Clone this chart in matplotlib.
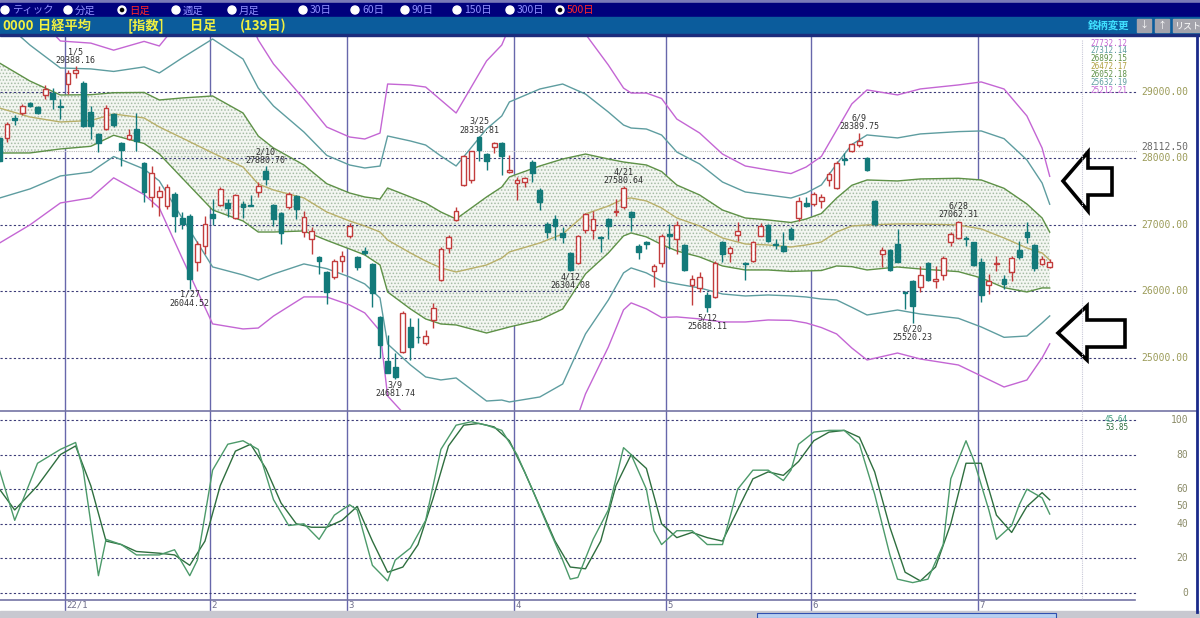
import numpy as np
import matplotlib.pyplot as plt
import matplotlib.transforms as mtransforms
from matplotlib.patches import Polygon, Rectangle, Circle

plt.rcParams['font.family'] = ['DejaVu Sans', 'Noto Sans CJK JP']
plt.rcParams['hatch.linewidth'] = 0.7

# ---- 日経平均 日足 2021/12/20 - 2022/7/14 (139 days) ----
opens = [28315, 28315, 28615, 28690, 28840, 28775, 28950, 28990, 28790, 29115,
         29280, 29140, 28705, 28365, 28450, 28665, 28240, 28300, 28450, 27930,
         27415, 27415, 27290, 27465, 27105, 27140, 26440, 26690, 27165, 27305,
         27330, 27100, 27315, 27305, 27500, 27815, 27305, 27180, 27275, 27430,
         26900, 26790, 26515, 26290, 26215, 26465, 26830, 26515, 26615, 26410,
         25620, 24960, 24870, 25095, 25470, 25320, 25220, 25570, 26165, 26650,
         27075, 27600, 27675, 28330, 28070, 28170, 28240, 27790, 27625, 27650,
         27950, 27525, 27015, 27085, 26875, 26585, 26425, 26930, 26930, 26825,
         27090, 27200, 27265, 27190, 26680, 26745, 26315, 26430, 26865, 26790,
         26700, 26090, 26050, 25940, 25915, 26750, 26575, 26850, 26430, 26465,
         26840, 27005, 26715, 26680, 26940, 27100, 27325, 27315, 27365, 27680,
         27550, 27990, 28115, 28200, 28005, 27365, 26565, 26625, 26715, 25990,
         26150, 26065, 26430, 26150, 26240, 26750, 26800, 26800, 26740, 26450,
         26100, 26415, 26190, 26290, 26625, 26890, 26700, 26415, 26365]
highs = [28340, 28550, 28650, 28815, 28850, 28790, 29100, 29065, 28890, 29325,
         29388, 29160, 28790, 28380, 28800, 28680, 28250, 28440, 28690, 27940,
         27880, 27590, 27615, 27490, 27190, 27165, 26765, 27140, 27390, 27565,
         27390, 27465, 27365, 27450, 27640, 27880, 27315, 27190, 27490, 27450,
         27215, 26965, 26540, 26315, 26490, 26615, 27030, 26535, 26675, 26425,
         25630, 25345, 25070, 25700, 25595, 25595, 25420, 25820, 26675, 26850,
         27265, 28053, 28118, 28339, 28080, 28253, 28253, 28050, 27725, 27725,
         27980, 27550, 27050, 27150, 26975, 26600, 26850, 27180, 27215, 26840,
         27100, 27390, 27581, 27215, 26715, 26765, 26415, 26865, 27015, 27065,
         26715, 26240, 26300, 25990, 26460, 26765, 26690, 27050, 26440, 26765,
         27030, 27015, 26790, 26890, 26965, 27415, 27415, 27490, 27465, 27790,
         27965, 28075, 28240, 28390, 28015, 27375, 26665, 26640, 26940, 26000,
         26165, 26390, 26440, 26390, 26530, 26900, 27062, 26840, 26750, 26500,
         26265, 26540, 26240, 26530, 26765, 27040, 26715, 26540, 26490]
lows = [27940, 28250, 28500, 28650, 28780, 28670, 28890, 28740, 28590, 28965,
        29210, 28480, 28300, 28100, 28430, 28480, 27890, 28280, 28115, 27340,
        27265, 27140, 27240, 26890, 26940, 26044, 26315, 26565, 27000, 27290,
        27115, 27090, 27100, 27290, 27415, 27600, 26990, 26715, 27240, 27090,
        26815, 26565, 26265, 25815, 26190, 26290, 26800, 26325, 26550, 25770,
        24995, 24770, 24682, 25070, 24970, 25220, 25195, 25445, 26150, 26585,
        27065, 27587, 27627, 27955, 27827, 28078, 27752, 27780, 27375, 27575,
        27650, 27225, 26800, 26775, 26725, 26304, 26410, 26880, 26790, 26590,
        26790, 27140, 27240, 26915, 26490, 26640, 26065, 26365, 26640, 26565,
        26315, 25790, 25990, 25688, 25900, 26440, 26450, 26765, 26165, 26440,
        26830, 26750, 26640, 26600, 26780, 27065, 27275, 27290, 27250, 27590,
        27540, 27900, 28090, 28180, 27815, 26990, 26365, 26315, 26440, 25740,
        25520, 25990, 26150, 26050, 26165, 26690, 26790, 26690, 26390, 25840,
        25965, 26315, 26040, 26150, 26490, 26725, 26315, 26400, 26350]
closes = [27965, 28515, 28575, 28790, 28790, 28680, 29050, 28900, 28780, 29290,
          29330, 28490, 28490, 28230, 28765, 28500, 28130, 28350, 28265, 27490,
          27780, 27515, 27575, 27140, 27015, 26190, 26715, 27015, 27100, 27540,
          27250, 27450, 27265, 27290, 27590, 27690, 27090, 26880, 27465, 27240,
          27115, 26905, 26465, 25990, 26465, 26530, 26990, 26375, 26575, 25975,
          25195, 24780, 24710, 25670, 25160, 25310, 25330, 25745, 26635, 26825,
          27215, 28030, 28105, 28130, 27955, 28240, 28030, 27820, 27675, 27700,
          27775, 27350, 26890, 26985, 26815, 26325, 26835, 27165, 27090, 26805,
          26990, 27215, 27550, 27115, 26600, 26715, 26390, 26840, 26840, 27005,
          26330, 26180, 26215, 25765, 26430, 26565, 26655, 26915, 26415, 26740,
          26990, 26765, 26700, 26615, 26790, 27365, 27290, 27465, 27415, 27765,
          27930, 27975, 28215, 28265, 27830, 27015, 26630, 26330, 26450, 25975,
          25780, 26240, 26165, 26180, 26500, 26865, 27040, 26785, 26400, 25940,
          26150, 26430, 26115, 26500, 26525, 26815, 26350, 26490, 26440]

# first candle of each month
month_start = [9, 28, 46, 68, 88, 107, 129]
month_lbl = ['22/1', '2', '3', '4', '5', '6', '7']

# Bollinger (25日): centre line and sigma
band_i = [0, 4, 8, 12, 15, 19, 21, 24, 28, 32, 34, 36, 40, 43, 46, 48, 50, 51, 54, 56,
          58, 60, 64, 66, 67, 71, 74, 77, 80, 82, 83, 85, 87, 89, 92, 95, 98, 101, 104, 106,
          108, 110, 112, 114, 118, 121, 126, 129, 132, 135, 137, 138]
band_mid = [28759, 28624, 28549, 28571, 28669, 28609, 28474, 28308, 28083, 27872,
            27616, 27526, 27406, 27195, 27060, 26985, 26894, 26774, 26579, 26458,
            26353, 26293, 26398, 26503, 26594, 26729, 26864, 27165, 27285, 27391,
            27406, 27361, 27255, 27105, 26985, 26804, 26714, 26699, 26669, 26699,
            26744, 26894, 26985, 27000, 27015, 27015, 27000, 26940, 26804, 26654,
            26579, 26472]
band_sig = [677, 541, 406, 388, 320, 384, 406, 602, 857, 812,
            722, 632, 496, 426, 421, 436, 496, 782, 842, 872,
            842, 797, 1023, 1068, 1128, 1158, 1128, 902, 707, 556,
            526, 541, 549, 496, 466, 421, 391, 376, 368, 391,
            429, 511, 612, 677, 647, 677, 702, 737, 747, 662,
            526, 420]
band_legend = ['27732.12', '27312.14', '26892.15', '26472.17', '26052.18', '25632.19', '25212.21']

# stochastics
k_i = [0, 2, 5, 8, 10, 11, 13, 14, 16, 18, 21, 23, 25, 26, 28, 30, 32, 34, 36, 38,
       40, 42, 44, 46, 47, 49, 51, 52, 54, 56, 58, 60, 62, 64, 66, 68, 70, 72, 74, 75,
       76, 78, 80, 82, 83, 85, 86, 87, 89, 91, 93, 95, 97, 99, 101, 103, 104, 105, 107, 109,
       111, 113, 115, 117, 118, 120, 122, 124, 125, 127, 128, 130, 131, 133, 134, 135, 137, 138]
k_val = [71, 42, 75, 83, 87, 71, 10, 31, 28, 22, 22, 25, 10, 19, 71, 86, 88, 83, 54, 39,
         40, 31, 45, 51, 48, 16, 7, 19, 26, 42, 83, 97, 99, 97, 94, 80, 60, 39, 19, 8,
         9, 31, 48, 84, 80, 60, 36, 28, 36, 36, 28, 28, 60, 71, 71, 65, 71, 86, 93, 94,
         94, 86, 57, 22, 8, 6, 8, 28, 66, 88, 77, 48, 31, 39, 51, 60, 55, 45.64]
d_i = [0, 2, 5, 8, 10, 12, 14, 16, 18, 21, 23, 25, 27, 29, 31, 33, 35, 37, 39, 41,
       43, 45, 47, 49, 51, 53, 55, 57, 59, 61, 63, 65, 67, 69, 71, 73, 75, 77, 79, 81,
       83, 85, 87, 89, 91, 93, 95, 97, 99, 101, 103, 105, 107, 109, 111, 113, 115, 117, 119, 121,
       123, 125, 127, 129, 131, 133, 135, 137, 138]
d_val = [60, 48, 62, 80, 85, 62, 30, 28, 24, 23, 22, 16, 30, 62, 82, 86, 72, 52, 40, 38,
         38, 42, 50, 30, 12, 15, 28, 55, 85, 97, 98, 96, 88, 70, 50, 30, 15, 14, 30, 62,
         80, 72, 40, 32, 35, 32, 30, 48, 66, 70, 68, 76, 88, 93, 94, 90, 70, 38, 12, 7,
         15, 40, 75, 75, 45, 35, 50, 58, 53.85]
stoch_legend = ['45.64', '53.85']

# high / low call-outs
ann_i = [10, 25, 35, 52, 63, 75, 82, 93, 113, 120, 126]
ann_txt = ['1/5\n29388.16', '1/27\n26044.52', '2/10\n27880.70', '3/9\n24681.74',
           '3/25\n28338.81', '4/12\n26304.08', '4/21\n27580.64', '5/12\n25688.11',
           '6/9\n28389.75', '6/20\n25520.23', '6/28\n27062.31']
ann_top = [True, False, True, False, True, False, True, False, True, False, True]

price_ticks = [25000, 26000, 27000, 28000, 29000]
last_price = 28112.50
stoch_ticks = [0, 20, 40, 50, 60, 80, 100]

UP, DN = '#c23c3c', '#137a7a'
MID, S1, S2, S3 = '#b9b06a', '#5e9147', '#5e9da0', '#c466d4'
GRID = '#3c3c78'
MONO = 'DejaVu Sans Mono'
JP = ['Noto Sans CJK JP', 'DejaVu Sans']

W, H = 1200, 618
fig = plt.figure(figsize=(12, 6.18), dpi=100)
fig.patch.set_facecolor('white')


def px_axes(x0, y0, x1, y1, z=1):
    a = fig.add_axes([x0 / W, 1 - y1 / H, (x1 - x0) / W, (y1 - y0) / H], zorder=z)
    a.set_axis_off()
    return a


XL = (0.066, 149.47)

# ── month lines + date labels ───────────────────────────────────────────────
axv = px_axes(0, 37, 1137, 611, z=0)
axv.set_xlim(XL); axv.set_ylim(0, 1)
for m, lbl in zip(month_start, month_lbl):
    axv.axvline(m - 0.4, color='#6767ab', lw=1)
    axv.text(m - 0.2, 5.5 / 574, lbl, ha='left', va='center', fontsize=6.5,
             color='#70708c', family=MONO)

# ── price panel ─────────────────────────────────────────────────────────────
ax = px_axes(0, 37, 1137, 410)
ax.set_xlim(XL); ax.set_ylim(24217, 29827)
for p in price_ticks:
    ax.axhline(p, color=GRID, lw=0.8, ls=(0, (2, 2)))
ax.axhline(last_price, color='#b8b8b8', lw=0.8, ls=(0, (1, 1)))

bi = np.array(band_i); bm = np.array(band_mid, float); bs = np.array(band_sig, float)
ax.fill_between(bi, bm - bs, bm + bs, facecolor='#f3f6f1', hatch='.....',
                edgecolor='#a6bca6', linewidth=0, zorder=1)
ax.plot(bi, bm, color=MID, lw=1, zorder=2)
for k, col in [(1, S1), (2, S2), (3, S3)]:
    ax.plot(bi, bm + k * bs, color=col, lw=1, zorder=2)
    ax.plot(bi, bm - k * bs, color=col, lw=1, zorder=2)

o = np.array(opens, float); h = np.array(highs, float)
l = np.array(lows, float); c = np.array(closes, float)
idx = np.arange(len(o))
up = c > o
ax.vlines(idx[up], l[up], h[up], color=UP, lw=1, zorder=3)
ax.vlines(idx[~up], l[~up], h[~up], color=DN, lw=1, zorder=3)
ax.bar(idx[up], np.maximum(c - o, 6)[up], bottom=o[up], width=0.62,
       facecolor='white', edgecolor=UP, lw=1, zorder=4)
ax.bar(idx[~up], np.maximum(o - c, 6)[~up], bottom=c[~up], width=0.62,
       facecolor=DN, edgecolor=DN, lw=1, zorder=4)

for i, txt, top in zip(ann_i, ann_txt, ann_top):
    y = h[i] if top else l[i]
    ax.annotate(txt, (i, y), xytext=(0, 1 if top else -1), textcoords='offset points',
                ha='center', va='bottom' if top else 'top', fontsize=6, family=MONO,
                color='#303030', linespacing=0.95, zorder=6)

tr = mtransforms.blended_transform_factory(ax.transAxes, ax.transData)
for p in price_ticks:
    ax.text(1188 / 1137, p, f'{p:.2f}', transform=tr, ha='right', va='center',
            fontsize=7, color='#9c9c5a', family=MONO, clip_on=False)
# current price label sits just above the 28000 label
ax.text(1188 / 1137, (410 - 146.5) / 373, f'{last_price:.2f}', transform=ax.transAxes,
        ha='right', va='center', fontsize=7, color='#6a6a6a', family=MONO, clip_on=False)
for n, (txt, col) in enumerate(zip(band_legend, [S3, S2, S1, '#b0a040', S1, S2, S3])):
    ax.text(1090 / 1137, (410 - 43 - 7.9 * n) / 373, txt, transform=ax.transAxes,
            ha='left', va='center', fontsize=5.5, color=col, family=MONO, clip_on=False)

# ── stochastics panel ───────────────────────────────────────────────────────
ax2 = px_axes(0, 411, 1137, 600)
ax2.set_xlim(XL); ax2.set_ylim(-4.05, 105.2)
for s in stoch_ticks:
    ax2.axhline(s, color=GRID, lw=0.8, ls=(0, (2, 2)))
ax2.plot(d_i, d_val, color='#2f6f3f', lw=1)
ax2.plot(k_i, k_val, color='#4c9a6a', lw=1)
tr2 = mtransforms.blended_transform_factory(ax2.transAxes, ax2.transData)
for s in stoch_ticks:
    ax2.text(1188 / 1137, s, f'{s}', transform=tr2, ha='right', va='center',
             fontsize=7, color='#8c8c6a', family=MONO, clip_on=False)
for n, (txt, col) in enumerate(zip(stoch_legend, ['#3c9a7a', '#2f6f3f'])):
    ax2.text(1105 / 1137, (600 - 419 - 8 * n) / 189, txt, transform=ax2.transAxes,
             ha='left', va='center', fontsize=5.5, color=col, family=MONO, clip_on=False)

# ── window chrome, separators, arrows ───────────────────────────────────────
deco = px_axes(0, 0, 1200, 618, z=5)
deco.set_xlim(0, W); deco.set_ylim(H, 0)
deco.add_patch(Rectangle((0, 0), W, 3, color='#7a7ab8'))
deco.add_patch(Rectangle((0, 3), W, 14, color='#00007c'))
deco.add_patch(Rectangle((0, 17), W, 17, color='#0b5c9c'))
deco.add_patch(Rectangle((0, 34), W, 2, color='#1c2c7c'))

radio = [('ティック', 5, False), ('分足', 68, False), ('日足', 122, True), ('週足', 176, False),
         ('月足', 232, False), ('30日', 303, False), ('60日', 355, False), ('90日', 405, False),
         ('150日', 457, False), ('300日', 510, False), ('500日', 560, True)]
for txt, cx, sel in radio:
    deco.add_patch(Circle((cx, 10), 4, color='white'))
    if sel:
        deco.add_patch(Circle((cx, 10), 1.6, color='black'))
    deco.text(cx + 7, 10.5, txt, ha='left', va='center', fontsize=7.5, family=JP,
              color='#ff2828' if sel else '#9090ff')

for txt, x in [('0000', 2), ('日経平均', 38), ('[指数]', 128), ('日足', 190), ('(139日)', 240)]:
    deco.text(x, 25.5, txt, ha='left', va='center', fontsize=9.5, family=JP,
              color='#f0f040', fontweight='bold')
deco.text(1088, 25.5, '銘柄変更', ha='left', va='center', fontsize=7.5, family=JP,
          color='#40e0ff', fontweight='bold')
for x0, w, t in [(1137, 14, '↓'), (1155, 14, '↑'), (1173, 30, 'リスト')]:
    deco.add_patch(Rectangle((x0, 19), w, 13, color='#a4a4ac'))
    deco.text(x0 + w / 2, 25.5, t, ha='center', va='center', fontsize=6.5, family=JP,
              color='white')

deco.plot([0, 1196], [410.5, 410.5], color='#7474a4', lw=1.2)
deco.plot([0, 1135], [600, 600], color='#7474a4', lw=1.2)
deco.plot([1082, 1082], [40, 600], color='#c8c8d8', lw=0.8, ls=(0, (1, 1)))
deco.plot([1197, 1197], [36, 612], color='#1a2a8a', lw=2)
deco.add_patch(Rectangle((0, 611), W, 7, color='#c8c8d0'))
deco.add_patch(Rectangle((757, 613), 299, 5, facecolor='#b8d0f0', edgecolor='#3050b0', lw=0.8))

arrows = [[(1063, 181), (1088, 152), (1088, 168), (1112, 168), (1112, 195), (1088, 195), (1088, 211)],
          [(1058, 333), (1087, 306), (1087, 320), (1125, 320), (1125, 347), (1087, 347), (1087, 360)]]
for pts in arrows:
    deco.add_patch(Polygon(pts, closed=True, facecolor='white', edgecolor='black',
                           lw=2.6, joinstyle='miter'))

fig.savefig('out.png', dpi=100)
